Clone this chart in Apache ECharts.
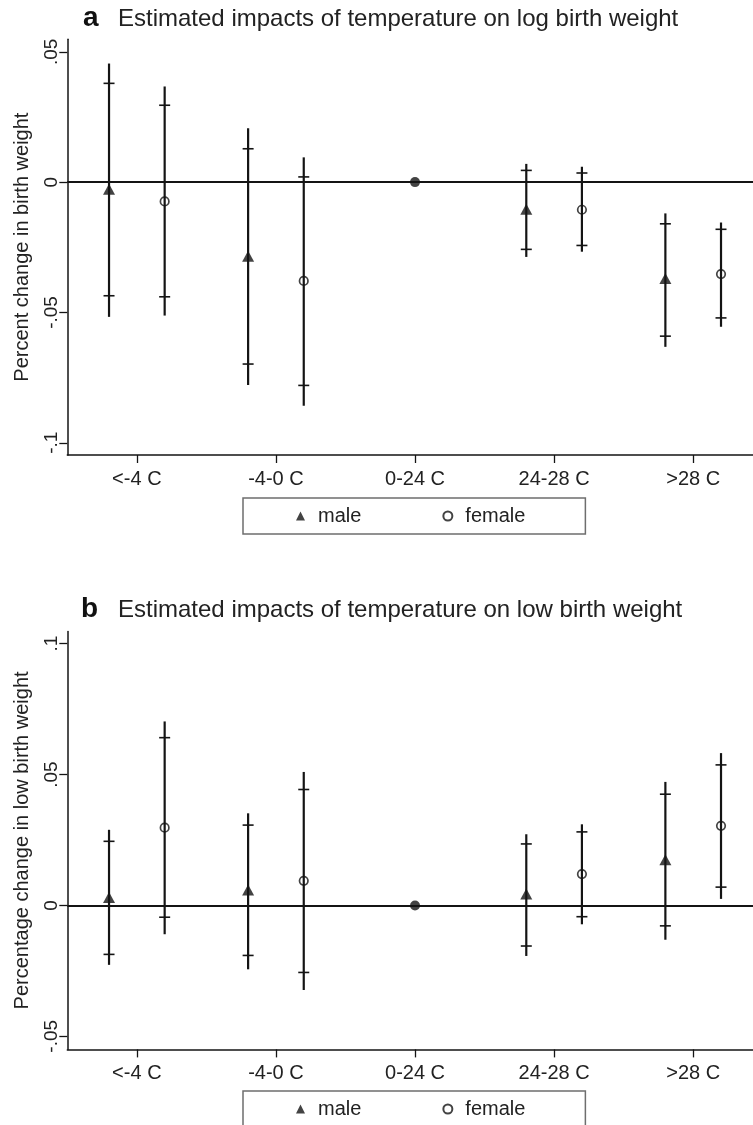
<!DOCTYPE html>
<html>
<head>
<meta charset="utf-8">
<script src="https://cdn.jsdelivr.net/npm/echarts@6/dist/echarts.min.js"></script>
<style>
  html, body { margin: 0; padding: 0; background: #fff; }
  #chart { width: 753px; height: 1125px; }
</style>
</head>
<body>
<div id="chart"></div>
<script>
// temperature bins (x axis)
var categories = ['<-4 C', '-4-0 C', '0-24 C', '24-28 C', '>28 C'];
var refIndex = 2;   // 0-24 C is the omitted bin, drawn as a dot at 0
var yTicksA = [-0.1, -0.05, 0, 0.05];
var yTicksB = [-0.05, 0, 0.05, 0.1];

// panel a: log birth weight
var aMaleEst  = [-0.0027, -0.0284, null, -0.0104, -0.0370];
var aMaleLo95 = [-0.0517, -0.0778, null, -0.0287, -0.0632];
var aMaleHi95 = [0.0455, 0.0207, null, 0.0070, -0.0120];
var aMaleLo90 = [-0.0436, -0.0698, null, -0.0258, -0.0591];
var aMaleHi90 = [0.0379, 0.0128, null, 0.0045, -0.0160];
var aFemEst   = [-0.0074, -0.0379, null, -0.0106, -0.0353];
var aFemLo95  = [-0.0512, -0.0858, null, -0.0267, -0.0555];
var aFemHi95  = [0.0367, 0.0095, null, 0.0059, -0.0155];
var aFemLo90  = [-0.0440, -0.0780, null, -0.0243, -0.0521];
var aFemHi90  = [0.0295, 0.0020, null, 0.0035, -0.0181];

// panel b: low birth weight
var bMaleEst  = [0.0030, 0.0059, null, 0.0044, 0.0175];
var bMaleLo95 = [-0.0227, -0.0244, null, -0.0193, -0.0131];
var bMaleHi95 = [0.0289, 0.0352, null, 0.0272, 0.0472];
var bMaleLo90 = [-0.0187, -0.0191, null, -0.0155, -0.0078];
var bMaleHi90 = [0.0245, 0.0307, null, 0.0235, 0.0425];
var bFemEst   = [0.0297, 0.0094, null, 0.0120, 0.0304];
var bFemLo95  = [-0.0110, -0.0323, null, -0.0072, 0.0025];
var bFemHi95  = [0.0703, 0.0510, null, 0.0310, 0.0582];
var bFemLo90  = [-0.0045, -0.0256, null, -0.0043, 0.0070];
var bFemHi90  = [0.0641, 0.0443, null, 0.0281, 0.0537];

var ink = '#141414';
var font = "'Liberation Sans', Arial, Helvetica, sans-serif";
var shift = 0.2;  // male left of the bin, female right

function stataNum(v) {
  if (v === 0) return '0';
  return String(+v.toFixed(3)).replace('0.', '.');
}

function barData(off, lo95, hi95, lo90, hi90) {
  var out = [];
  for (var i = 0; i < categories.length; i++) {
    if (lo95[i] == null) continue;
    out.push([i + 1 + off, lo95[i], hi95[i], lo90[i], hi90[i]]);
  }
  return out;
}
function pointData(off, est) {
  var out = [];
  for (var i = 0; i < categories.length; i++) {
    if (est[i] == null) continue;
    out.push([i + 1 + off, est[i]]);
  }
  return out;
}

function renderBar(params, api) {
  var x = api.value(0);
  var lo = api.coord([x, api.value(1)]);
  var hi = api.coord([x, api.value(2)]);
  var l9 = api.coord([x, api.value(3)]);
  var h9 = api.coord([x, api.value(4)]);
  var w = 5.5;
  return {
    type: 'group',
    children: [
      { type: 'line', shape: { x1: lo[0], y1: lo[1], x2: hi[0], y2: hi[1] }, style: { stroke: ink, lineWidth: 2.2 } },
      { type: 'line', shape: { x1: l9[0] - w, y1: l9[1], x2: l9[0] + w, y2: l9[1] }, style: { stroke: ink, lineWidth: 1.6 } },
      { type: 'line', shape: { x1: h9[0] - w, y1: h9[1], x2: h9[0] + w, y2: h9[1] }, style: { stroke: ink, lineWidth: 1.6 } }
    ]
  };
}

function panelSeries(k, d) {
  return [
    { type: 'custom', name: 'ciMale' + k, xAxisIndex: k, yAxisIndex: k, renderItem: renderBar,
      encode: { x: 0, y: [1, 2, 3, 4] }, data: barData(-shift, d.mLo95, d.mHi95, d.mLo90, d.mHi90), silent: true,
      markLine: { silent: true, symbol: 'none', label: { show: false },
        lineStyle: { color: ink, width: 2.2, type: 'solid' }, data: [{ yAxis: 0 }] } },
    { type: 'custom', name: 'ciFemale' + k, xAxisIndex: k, yAxisIndex: k, renderItem: renderBar,
      encode: { x: 0, y: [1, 2, 3, 4] }, data: barData(shift, d.fLo95, d.fHi95, d.fLo90, d.fHi90), silent: true },
    { type: 'scatter', name: 'male', xAxisIndex: k, yAxisIndex: k, symbol: 'triangle', symbolSize: [12, 11],
      itemStyle: { color: ink }, data: pointData(-shift, d.mEst), z: 5 },
    { type: 'scatter', name: 'female', xAxisIndex: k, yAxisIndex: k, symbol: 'circle', symbolSize: 8.5,
      itemStyle: { color: 'rgba(255,255,255,0)', borderColor: ink, borderWidth: 1.7 }, data: pointData(shift, d.fEst), z: 5 },
    { type: 'scatter', name: 'ref' + k, xAxisIndex: k, yAxisIndex: k, symbol: 'circle', symbolSize: 10,
      itemStyle: { color: ink }, data: [[refIndex + 1, 0]], z: 5 }
  ];
}

function xAxis(k) {
  return {
    type: 'value', gridIndex: k, min: 0.5, max: 5.43,
    axisLine: { onZero: false, lineStyle: { color: ink, width: 1.5 } },
    axisTick: { customValues: [1, 2, 3, 4, 5], length: 8, lineStyle: { color: ink, width: 1.3 } },
    axisLabel: { customValues: [1, 2, 3, 4, 5], margin: 14, fontSize: 20, color: '#222', fontFamily: font,
      formatter: function (v) { return categories[Math.round(v) - 1]; } },
    splitLine: { show: false }
  };
}

function yAxis(k, name, min, max, ticks) {
  return {
    type: 'value', gridIndex: k, min: min, max: max,
    name: name, nameLocation: 'middle', nameRotate: 90, nameGap: 35,
    nameTextStyle: { fontSize: 20, color: '#222', fontFamily: font },
    axisLine: { show: true, onZero: false, lineStyle: { color: ink, width: 1.5 } },
    axisTick: { show: true, customValues: ticks, length: 8, lineStyle: { color: ink, width: 1.3 } },
    axisLabel: { customValues: ticks, rotate: 90, margin: 6, fontSize: 19, color: '#222', fontFamily: font,
      formatter: stataNum },
    splitLine: { show: false }
  };
}

function legend(top) {
  return {
    left: 243, top: top, orient: 'horizontal', selectedMode: false,
    padding: [8, 60, 8, 53], itemGap: 81, itemWidth: 9, itemHeight: 9,
    borderColor: '#6e6e6e', borderWidth: 1.5, borderRadius: 0,
    textStyle: { fontSize: 20, color: '#222', fontFamily: font, padding: [0, 0, 0, 8] },
    data: [{ name: 'male', icon: 'triangle' }, { name: 'female', icon: 'circle' }]
  };
}

var chart = echarts.init(document.getElementById('chart'), null, { renderer: 'canvas' });
chart.setOption({
  animation: false,
  backgroundColor: '#fff',
  title: [
    { text: 'a', left: 83, top: 4, padding: 0, textStyle: { fontSize: 28, fontWeight: 'bold', color: '#111', fontFamily: font } },
    { text: 'Estimated impacts of temperature on log birth weight', left: 118, top: 7, padding: 0,
      textStyle: { fontSize: 24, fontWeight: 'normal', color: '#222', fontFamily: font } },
    { text: 'b', left: 81, top: 595, padding: 0, textStyle: { fontSize: 28, fontWeight: 'bold', color: '#111', fontFamily: font } },
    { text: 'Estimated impacts of temperature on low birth weight', left: 118, top: 598, padding: 0,
      textStyle: { fontSize: 24, fontWeight: 'normal', color: '#222', fontFamily: font } }
  ],
  legend: [legend(498), legend(1091)],
  grid: [
    { left: 67.3, top: 39.3, width: 685.7, height: 415.7 },
    { left: 67.3, top: 631.4, width: 685.7, height: 418 }
  ],
  xAxis: [xAxis(0), xAxis(1)],
  yAxis: [
    yAxis(0, 'Percent change in birth weight', -0.1047, 0.0548, yTicksA),
    yAxis(1, 'Percentage change in low birth weight', -0.055, 0.1047, yTicksB)
  ],
  series: panelSeries(0, {
    mEst: aMaleEst, mLo95: aMaleLo95, mHi95: aMaleHi95, mLo90: aMaleLo90, mHi90: aMaleHi90,
    fEst: aFemEst, fLo95: aFemLo95, fHi95: aFemHi95, fLo90: aFemLo90, fHi90: aFemHi90
  }).concat(panelSeries(1, {
    mEst: bMaleEst, mLo95: bMaleLo95, mHi95: bMaleHi95, mLo90: bMaleLo90, mHi90: bMaleHi90,
    fEst: bFemEst, fLo95: bFemLo95, fHi95: bFemHi95, fLo90: bFemLo90, fHi90: bFemHi90
  }))
});
</script>
</body>
</html>
